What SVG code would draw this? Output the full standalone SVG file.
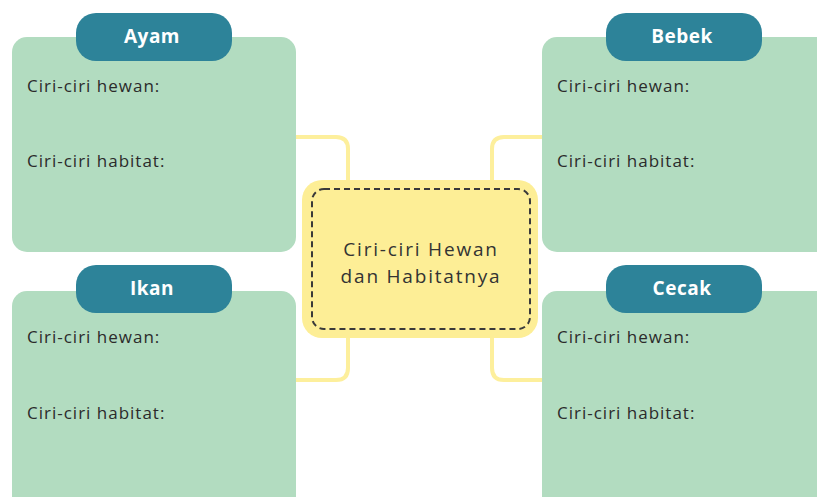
<svg xmlns="http://www.w3.org/2000/svg" width="817" height="497" viewBox="0 0 817 497">
<style>
.card{fill:#b2dcc0}
.tab{fill:#2d8399}
.tabt{font-family:"Open Sans","Liberation Sans",sans-serif;font-weight:700;font-size:19px;letter-spacing:0.5px;fill:#ffffff;text-anchor:middle}
.lbl{font-family:"Open Sans","Liberation Sans",sans-serif;font-size:17px;letter-spacing:1px;fill:#2b2b2b}
.conn{fill:none;stroke:#fdef9c;stroke-width:4}
.ctr{font-family:"Open Sans","Liberation Sans",sans-serif;font-size:19px;letter-spacing:1.8px;fill:#333333;text-anchor:middle}
</style>
<rect width="817" height="497" fill="#ffffff"/>
<g id="connectors">
<path class="conn" d="M296 137 H336 Q348 137 348 149 V182"/>
<path class="conn" d="M348 336 V368 Q348 380 336 380 H296"/>
<path class="conn" d="M542 137 H504 Q492 137 492 149 V182"/>
<path class="conn" d="M492 336 V368 Q492 380 504 380 H542"/>
</g>
<g id="ayam">
<rect class="card" x="12" y="37" width="284" height="215" rx="15"/>
<rect class="tab" x="76" y="13" width="156" height="48" rx="20"/>
<text class="tabt" x="152" y="43">Ayam</text>
<text class="lbl" x="27" y="92">Ciri-ciri hewan:</text>
<text class="lbl" x="27" y="167">Ciri-ciri habitat:</text>
</g>
<g id="bebek">
<rect class="card" x="542" y="37" width="295" height="215" rx="15"/>
<rect class="tab" x="606" y="13" width="156" height="48" rx="20"/>
<text class="tabt" x="682" y="43">Bebek</text>
<text class="lbl" x="557" y="92">Ciri-ciri hewan:</text>
<text class="lbl" x="557" y="167">Ciri-ciri habitat:</text>
</g>
<g id="ikan">
<rect class="card" x="12" y="291" width="284" height="230" rx="15"/>
<rect class="tab" x="76" y="265" width="156" height="48" rx="20"/>
<text class="tabt" x="152" y="295">Ikan</text>
<text class="lbl" x="27" y="343">Ciri-ciri hewan:</text>
<text class="lbl" x="27" y="419">Ciri-ciri habitat:</text>
</g>
<g id="cecak">
<rect class="card" x="542" y="291" width="295" height="230" rx="15"/>
<rect class="tab" x="606" y="265" width="156" height="48" rx="20"/>
<text class="tabt" x="682" y="295">Cecak</text>
<text class="lbl" x="557" y="343">Ciri-ciri hewan:</text>
<text class="lbl" x="557" y="419">Ciri-ciri habitat:</text>
</g>
<g id="center">
<rect x="302" y="180" width="236" height="158" rx="20" fill="#fdee96"/>
<rect x="312" y="189" width="218" height="140" rx="12" fill="none" stroke="#3a3a3a" stroke-width="2" stroke-dasharray="6 4"/>
<text class="ctr" x="421" y="256">Ciri-ciri Hewan</text>
<text class="ctr" x="421" y="283">dan Habitatnya</text>
</g>
</svg>
